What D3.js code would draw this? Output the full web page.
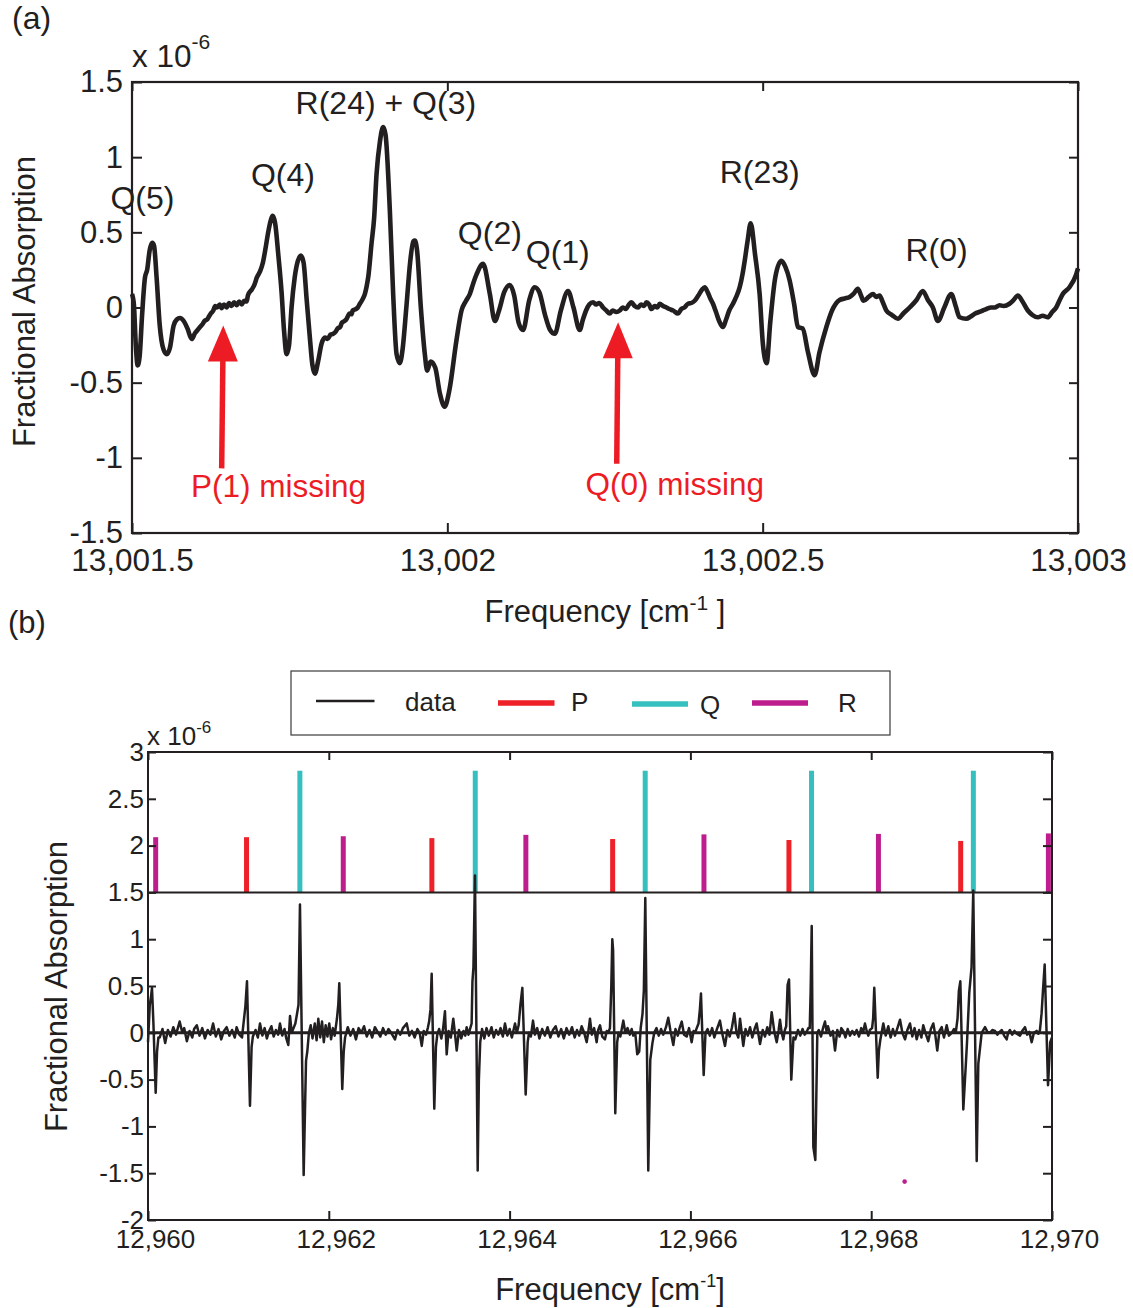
<!DOCTYPE html>
<html>
<head>
<meta charset="utf-8">
<script src="https://cdn.jsdelivr.net/npm/d3@7"></script>
<style>
html,body{margin:0;padding:0;background:#fff;}
svg{display:block;}
</style>
</head>
<body>
<svg id="chart" width="1133" height="1308" xmlns="http://www.w3.org/2000/svg"></svg>
<script>
// ================= DATA : panel (a) =================
const spectrumA = [
[13001.5000,0.09],[13001.5030,0.02],[13001.5060,-0.25],[13001.5090,-0.385],[13001.5120,-0.33],[13001.5160,-0.05],
[13001.5206,0.20],[13001.5240,0.25],[13001.5280,0.38],[13001.5322,0.43],[13001.5350,0.41],[13001.5390,0.20],
[13001.5440,-0.12],[13001.5500,-0.28],[13001.5550,-0.31],[13001.5600,-0.27],[13001.5660,-0.12],[13001.5710,-0.08],
[13001.5760,-0.07],[13001.5820,-0.09],[13001.5880,-0.14],[13001.5946,-0.21],[13001.6000,-0.17],[13001.6040,-0.15],[13001.6078,-0.13],
[13001.6120,-0.11],[13001.6150,-0.09],[13001.6190,-0.08],[13001.6220,-0.06],[13001.6250,-0.04],[13001.6288,-0.02],[13001.6320,0.01],[13001.6350,0.00],
[13001.6390,0.02],[13001.6420,-0.005],[13001.6460,0.02],[13001.6500,0.00],[13001.6540,0.03],[13001.6580,0.01],[13001.6620,0.035],
[13001.6660,0.015],[13001.6700,0.04],[13001.6740,0.02],[13001.6780,0.045],[13001.6818,0.04],
[13001.6838,0.08],[13001.6900,0.12],[13001.6940,0.15],[13001.6980,0.20],[13001.7030,0.24],[13001.7076,0.30],[13001.7120,0.40],[13001.7155,0.49],
[13001.7200,0.58],[13001.7230,0.61],[13001.7270,0.56],[13001.7320,0.35],[13001.7372,0.10],[13001.7410,-0.15],
[13001.7452,-0.31],[13001.7490,-0.25],[13001.7530,0.00],[13001.7580,0.20],[13001.7630,0.31],[13001.7678,0.345],
[13001.7720,0.30],[13001.7770,0.05],[13001.7820,-0.20],[13001.7860,-0.38],[13001.7900,-0.44],[13001.7950,-0.36],
[13001.8006,-0.24],[13001.8060,-0.20],[13001.8100,-0.21],[13001.8150,-0.18],[13001.8190,-0.175],[13001.8230,-0.16],[13001.8260,-0.14],
[13001.8300,-0.13],[13001.8330,-0.10],[13001.8370,-0.09],[13001.8403,-0.075],[13001.8450,-0.04],[13001.8480,-0.045],[13001.8500,-0.02],
[13001.8550,-0.01],[13001.8580,0.00],[13001.8613,0.025],[13001.8650,0.05],[13001.8693,0.09],[13001.8720,0.14],
[13001.8745,0.20],[13001.8799,0.43],[13001.8840,0.60],[13001.8878,0.89],[13001.8930,1.10],[13001.8982,1.20],
[13001.9020,1.15],[13001.9089,0.64],[13001.9140,0.10],[13001.9195,-0.31],[13001.9247,-0.37],[13001.9290,-0.28],
[13001.9350,0.00],[13001.9410,0.30],[13001.9460,0.44],[13001.9485,0.445],[13001.9520,0.38],[13001.9580,0.00],
[13001.9643,-0.31],[13001.9680,-0.42],[13001.9734,-0.36],[13001.9808,-0.40],[13001.9881,-0.57],[13001.9957,-0.66],
[13002.0032,-0.55],[13002.0144,-0.22],[13002.0225,-0.02],[13002.0290,0.04],[13002.0357,0.09],[13002.0410,0.16],[13002.0463,0.22],
[13002.0567,0.29],[13002.0674,0.09],[13002.0753,-0.09],[13002.0820,-0.02],[13002.0900,0.10],[13002.0990,0.15],
[13002.1060,0.08],[13002.1130,-0.10],[13002.1201,-0.15],[13002.1300,0.05],[13002.1387,0.135],[13002.1460,0.10],
[13002.1550,-0.05],[13002.1630,-0.15],[13002.1704,-0.175],[13002.1800,-0.02],[13002.1914,0.11],[13002.2000,0.00],
[13002.2100,-0.15],[13002.2150,-0.08],[13002.2200,-0.02],[13002.2250,0.02],[13002.2311,0.035],[13002.2360,0.02],[13002.2410,0.03],
[13002.2469,0.00],[13002.2520,-0.02],[13002.2575,-0.04],[13002.2620,-0.02],[13002.2680,-0.03],[13002.2734,-0.02],[13002.2780,0.00],
[13002.2830,-0.01],[13002.2880,0.02],[13002.2919,0.035],[13002.2970,0.01],[13002.3024,0.00],[13002.3070,0.02],[13002.3120,0.01],
[13002.3157,0.035],[13002.3200,0.02],[13002.3236,-0.01],[13002.3290,0.01],[13002.3330,0.00],[13002.3368,0.025],[13002.3420,0.01],
[13002.3474,0.00],[13002.3520,-0.01],[13002.3580,-0.02],[13002.3658,-0.04],[13002.3710,-0.01],[13002.3760,0.00],[13002.3816,0.025],
[13002.3870,0.03],[13002.3922,0.045],[13002.3980,0.08],[13002.4040,0.12],[13002.4081,0.135],[13002.4130,0.10],[13002.4170,0.06],
[13002.4212,0.025],[13002.4260,-0.03],[13002.4310,-0.09],[13002.4371,-0.13],[13002.4420,-0.08],[13002.4470,-0.02],[13002.4529,0.025],
[13002.4580,0.07],[13002.4636,0.135],[13002.4680,0.22],[13002.4715,0.31],[13002.4760,0.44],[13002.4810,0.56],
[13002.4880,0.35],[13002.4952,0.09],[13002.5005,-0.25],
[13002.5063,-0.37],[13002.5120,-0.10],[13002.5200,0.20],[13002.5296,0.31],[13002.5360,0.27],[13002.5428,0.18],[13002.5500,0.02],[13002.5559,-0.13],
[13002.5634,-0.14],[13002.5720,-0.30],[13002.5824,-0.45],[13002.5900,-0.30],[13002.6010,-0.13],[13002.6100,-0.02],
[13002.6220,0.05],[13002.6300,0.06],[13002.6379,0.07],[13002.6440,0.09],[13002.6510,0.125],[13002.6560,0.08],[13002.6600,0.045],
[13002.6680,0.07],[13002.6750,0.09],[13002.6800,0.07],[13002.6854,0.08],[13002.6900,0.04],
[13002.6961,-0.02],[13002.7050,-0.05],[13002.7144,-0.075],[13002.7230,-0.04],[13002.7330,0.00],[13002.7440,0.05],[13002.7540,0.11],[13002.7620,0.05],[13002.7699,0.00],[13002.7778,-0.09],
[13002.7880,0.00],[13002.7990,0.09],[13002.8060,0.01],[13002.8122,-0.065],[13002.8228,-0.075],[13002.8300,-0.06],[13002.8370,-0.04],
[13002.8430,-0.03],[13002.8491,-0.02],[13002.8550,-0.01],[13002.8620,0.00],[13002.8680,0.00],[13002.8756,0.015],[13002.8820,0.01],
[13002.8914,0.025],[13002.8980,0.05],[13002.9046,0.08],[13002.9120,0.04],[13002.9204,-0.02],[13002.9280,-0.05],[13002.9363,-0.065],
[13002.9440,-0.055],[13002.9521,-0.065],[13002.9590,-0.03],[13002.9654,0.00],[13002.9710,0.05],[13002.9759,0.09],
[13002.9865,0.135],[13002.9971,0.22],[13003.0000,0.26]
];
// [label, frequency (centre), value (baseline)]
const peakLabelsA = [
  ["Q(5)", 13001.5166, 0.658],
  ["Q(4)", 13001.7393, 0.81],
  ["R(24) + Q(3)", 13001.9025, 1.289],
  ["Q(2)", 13002.0674, 0.425],
  ["Q(1)", 13002.1751, 0.299],
  ["R(23)", 13002.4952, 0.831],
  ["R(0)", 13002.7757, 0.312]
];
const missingLabelsA = [
  {text:"P(1) missing", textF:13001.7325, textV:-1.26, tipF:13001.6447, tipV:-0.12, tailF:13001.6422, tailV:-1.07},
  {text:"Q(0) missing", textF:13002.3605, textV:-1.249, tipF:13002.2708, tipV:-0.098, tailF:13002.2686, tailV:-1.04}
];
const xTicksA = [13001.5, 13002, 13002.5, 13003];
const xTickLabelsA = ["13,001.5", "13,002", "13,002.5", "13,003"];
const yTicksA = [-1.5, -1, -0.5, 0, 0.5, 1, 1.5];
const yTickLabelsA = ["-1.5", "-1", "-0.5", "0", "0.5", "1", "1.5"];

// ================= DATA : panel (b) =================
const spectrumB = [
[12960.000,-0.10],[12960.010,0.10],[12960.020,0.30],[12960.035,0.40],[12960.044,0.48],[12960.060,0.10],[12960.085,-0.64],[12960.100,-0.20],[12960.115,-0.05],
[12960.13,-0.05],[12960.16,0.04],[12960.19,-0.11],[12960.22,0.03],[12960.25,-0.04],[12960.28,0.06],[12960.31,-0.02],[12960.35,0.12],[12960.38,0.00],[12960.40,0.05],[12960.43,-0.09],[12960.46,0.02],[12960.49,-0.05],[12960.51,0.04],[12960.54,0.08],[12960.57,-0.03],[12960.60,0.05],[12960.63,-0.06],[12960.66,0.03],[12960.69,-0.02],[12960.72,0.10],[12960.75,-0.04],[12960.78,0.04],[12960.81,-0.07],[12960.84,0.02],[12960.87,0.06],[12960.90,-0.03],[12960.93,0.03],[12960.96,-0.05],[12960.98,0.06],[12961.01,-0.02],[12961.04,-0.05],
[12961.060,0.13],[12961.077,0.28],[12961.095,0.55],[12961.128,-0.78],[12961.146,-0.15],[12961.160,-0.04],
[12961.190,0.03],[12961.215,-0.05],[12961.239,0.10],[12961.265,-0.03],[12961.290,0.05],[12961.315,-0.06],[12961.340,0.02],[12961.365,0.07],[12961.390,-0.04],[12961.415,0.03],[12961.440,-0.02],[12961.460,0.10],[12961.485,-0.03],[12961.510,0.04],[12961.530,-0.06],[12961.552,-0.13],[12961.571,0.18],[12961.590,0.00],[12961.610,0.05],[12961.630,0.10],
[12961.648,0.20],[12961.665,0.30],[12961.681,1.37],[12961.722,-1.52],[12961.748,-0.30],[12961.762,-0.20],[12961.780,0.00],
[12961.800,0.08],[12961.820,-0.06],[12961.845,0.10],[12961.865,-0.08],[12961.884,0.15],[12961.905,-0.05],[12961.925,0.12],[12961.945,-0.10],[12961.965,0.08],[12961.985,-0.04],[12962.005,0.10],[12962.025,-0.07],[12962.045,0.05],[12962.065,-0.03],
[12962.090,0.15],[12962.105,0.30],[12962.116,0.53],[12962.149,-0.60],[12962.165,-0.20],[12962.180,-0.05],
[12962.21,0.06],[12962.24,-0.03],[12962.27,0.04],[12962.30,-0.07],[12962.33,0.05],[12962.36,0.00],[12962.39,0.07],[12962.42,-0.04],[12962.45,0.03],[12962.48,-0.05],[12962.51,0.06],[12962.54,0.01],[12962.57,-0.04],[12962.60,0.05],[12962.63,-0.02],[12962.66,0.04],[12962.69,0.00],[12962.732,-0.07],[12962.76,0.03],[12962.79,-0.02],[12962.82,0.05],[12962.862,0.10],[12962.89,-0.03],[12962.92,0.02],[12962.95,-0.05],[12962.98,0.04],[12963.005,0.00],[12963.028,-0.14],[12963.05,0.02],[12963.075,-0.02],[12963.095,0.05],
[12963.110,0.12],[12963.125,0.25],[12963.138,0.63],[12963.167,-0.81],[12963.185,-0.15],[12963.200,-0.02],
[12963.220,0.04],[12963.245,-0.06],[12963.265,0.05],[12963.285,0.23],[12963.304,-0.23],[12963.325,0.02],[12963.350,-0.05],[12963.377,0.15],[12963.395,0.00],[12963.415,-0.19],[12963.440,0.03],[12963.465,-0.06],[12963.490,0.02],[12963.510,-0.03],[12963.525,0.06],[12963.545,-0.02],[12963.565,0.05],
[12963.580,0.10],[12963.589,0.55],[12963.600,0.70],[12963.617,1.68],[12963.647,-1.47],[12963.660,-0.50],[12963.675,-0.10],
[12963.695,0.04],[12963.720,-0.06],[12963.745,0.05],[12963.770,-0.03],[12963.800,0.06],[12963.825,-0.05],[12963.850,0.03],[12963.875,-0.02],[12963.900,0.05],[12963.925,-0.04],[12963.949,0.10],[12963.975,-0.03],[12964.000,0.04],[12964.025,-0.05],[12964.060,0.10],[12964.080,0.00],
[12964.100,0.08],[12964.120,0.30],[12964.141,0.48],[12964.178,-0.66],[12964.200,-0.10],[12964.215,0.00],
[12964.235,-0.04],[12964.259,0.13],[12964.280,-0.02],[12964.305,0.05],[12964.330,-0.06],[12964.360,0.04],[12964.390,-0.03],[12964.420,0.06],[12964.450,-0.05],[12964.480,0.03],[12964.510,0.07],[12964.540,-0.04],[12964.570,0.04],[12964.600,-0.06],[12964.630,0.05],[12964.660,-0.02],[12964.690,0.06],[12964.720,-0.05],[12964.745,0.03],[12964.770,-0.03],[12964.797,0.07],[12964.825,0.00],[12964.853,-0.10],[12964.875,0.04],[12964.889,0.15],[12964.910,-0.02],[12964.935,0.05],[12964.963,-0.10],[12964.980,0.03],[12965.000,0.08],[12965.025,-0.04],[12965.055,-0.07],[12965.075,0.02],[12965.090,0.00],
[12965.110,0.05],[12965.125,0.50],[12965.136,1.00],[12965.145,0.88],[12965.169,-0.86],[12965.190,-0.10],[12965.205,0.00],
[12965.225,-0.04],[12965.258,0.13],[12965.280,0.00],[12965.305,0.05],[12965.330,-0.02],[12965.350,0.04],[12965.368,-0.03],[12965.390,0.00],[12965.412,-0.23],[12965.434,-0.20],[12965.450,0.05],
[12965.470,0.20],[12965.485,0.45],[12965.501,1.44],[12965.534,-1.47],[12965.556,-0.29],[12965.580,-0.11],
[12965.600,0.00],[12965.625,0.05],[12965.650,-0.03],[12965.675,0.04],[12965.700,-0.02],[12965.730,0.06],[12965.755,0.16],[12965.780,0.02],[12965.811,-0.13],[12965.835,0.04],[12965.860,-0.03],[12965.880,0.05],[12965.904,0.12],[12965.930,-0.02],[12965.959,-0.04],[12965.985,0.05],[12966.014,-0.10],[12966.035,0.02],[12966.051,0.00],[12966.070,0.05],
[12966.090,0.10],[12966.105,0.25],[12966.117,0.42],[12966.147,-0.45],[12966.167,0.00],
[12966.190,0.04],[12966.215,-0.03],[12966.240,0.05],[12966.265,-0.05],[12966.290,0.03],[12966.327,0.13],[12966.350,0.00],[12966.383,-0.14],[12966.410,0.03],[12966.435,-0.04],[12966.460,0.06],[12966.486,0.21],[12966.510,0.00],[12966.530,-0.05],[12966.549,0.15],[12966.585,-0.14],[12966.610,0.04],[12966.635,-0.03],[12966.660,0.06],[12966.685,-0.05],[12966.710,0.04],[12966.733,0.10],[12966.770,-0.12],[12966.800,0.03],[12966.825,-0.04],[12966.850,0.06],[12966.875,-0.02],[12966.899,0.22],[12966.930,0.00],[12966.955,-0.10],[12966.975,0.02],[12966.991,0.14],[12967.010,0.00],[12967.028,-0.07],[12967.045,0.03],
[12967.060,0.07],[12967.075,0.51],[12967.091,0.57],[12967.116,-0.50],[12967.140,-0.05],
[12967.160,-0.07],[12967.190,0.03],[12967.215,-0.03],[12967.240,0.04],[12967.265,-0.02],[12967.290,0.02],[12967.305,0.05],
[12967.320,0.05],[12967.330,0.43],[12967.342,1.14],[12967.360,-1.22],[12967.382,-1.36],[12967.404,0.00],
[12967.420,0.03],[12967.445,-0.04],[12967.467,0.05],[12967.489,0.12],[12967.505,0.02],[12967.522,0.07],[12967.550,-0.03],[12967.575,0.02],[12967.600,-0.19],[12967.625,0.03],[12967.650,-0.04],[12967.670,0.05],[12967.691,0.02],[12967.715,-0.05],[12967.740,0.04],[12967.765,-0.03],[12967.790,0.02],[12967.815,-0.02],[12967.839,0.03],[12967.865,-0.04],[12967.890,0.05],[12967.910,0.00],[12967.931,0.10],[12967.950,0.02],[12967.968,-0.03],[12967.985,0.03],
[12968.010,0.05],[12968.022,0.16],[12968.034,0.48],[12968.072,-0.48],[12968.085,-0.19],[12968.100,-0.08],
[12968.134,0.10],[12968.160,-0.03],[12968.189,0.07],[12968.215,-0.05],[12968.240,0.04],[12968.263,-0.03],[12968.290,0.05],[12968.319,0.14],[12968.345,0.00],[12968.374,-0.07],[12968.400,0.03],[12968.429,0.10],[12968.455,-0.04],[12968.480,0.05],[12968.503,-0.07],[12968.530,0.03],[12968.555,-0.05],[12968.576,0.08],[12968.600,0.00],[12968.631,-0.09],[12968.660,0.04],[12968.687,0.10],[12968.710,-0.03],[12968.731,-0.19],[12968.755,0.02],[12968.780,0.06],[12968.805,-0.05],[12968.835,0.08],[12968.860,-0.03],[12968.891,0.00],[12968.915,0.04],[12968.935,0.00],
[12968.955,0.15],[12968.970,0.45],[12968.986,0.55],[12969.019,-0.82],[12969.046,-0.35],[12969.060,-0.10],[12969.085,0.43],[12969.110,0.70],[12969.129,1.52],[12969.167,-1.37],[12969.185,-0.33],[12969.222,0.00],
[12969.259,0.06],[12969.285,0.01],[12969.314,0.00],[12969.340,0.03],[12969.369,0.02],[12969.395,-0.02],[12969.420,0.01],[12969.445,0.03],[12969.470,-0.03],[12969.499,-0.07],[12969.515,0.00],[12969.535,0.03],[12969.560,-0.02],[12969.585,0.02],[12969.610,-0.01],[12969.646,-0.03],[12969.670,0.02],[12969.701,0.06],[12969.725,-0.02],[12969.750,0.01],[12969.775,-0.10],[12969.800,0.00],[12969.830,0.02],[12969.850,-0.01],[12969.867,0.03],
[12969.885,0.21],[12969.900,0.45],[12969.919,0.73],[12969.956,-0.56],[12969.980,-0.10],[12970.000,-0.05]
];
// stick spectra [frequency, top value]; sticks start at stickBase
const sticksP = [[12961.09,2.09],[12963.14,2.08],[12965.14,2.07],[12967.09,2.06],[12968.99,2.05]];
const sticksQ = [[12961.68,2.80],[12963.62,2.80],[12965.50,2.80],[12967.34,2.80],[12969.13,2.80]];
const sticksR = [[12960.085,2.09],[12962.16,2.10],[12964.18,2.115],[12966.15,2.12],[12968.08,2.125],[12969.96,2.13]];
const stickBase = 1.5;
const strayPointB = [[12968.37,-1.59]];
const xTicksB = [12960, 12962, 12964, 12966, 12968, 12970];
const xTickLabelsB = ["12,960", "12,962", "12,964", "12,966", "12,968", "12,970"];
const yTicksB = [-2, -1.5, -1, -0.5, 0, 0.5, 1, 1.5, 2, 2.5, 3];
const yTickLabelsB = ["-2", "-1.5", "-1", "-0.5", "0", "0.5", "1", "1.5", "2", "2.5", "3"];
const legendLabels = ["data", "P", "Q", "R"];

// ================= RENDER =================
const FONT = '"Liberation Sans", Arial, Helvetica, sans-serif';
const INK = "#231f20";
const RED = "#ed1c24";
const COL = {P:"#ed2127", Q:"#35bfbf", R:"#be1e8d"};
const svg = d3.select("#chart");
svg.append("rect").attr("width",1133).attr("height",1308).attr("fill","#fff");

function styleAxis(g, fs, dx) {
  g.attr("font-family", FONT).attr("font-size", fs).attr("color", INK);
  g.select(".domain").remove();
  g.selectAll(".tick line").attr("stroke-width", 2);
  g.selectAll(".tick text").attr("fill", INK);
  if (dx) g.selectAll(".tick text").attr("dx", dx);
}
function txt(g, x, y, s, fs, opts) {
  const t = g.append("text").attr("x", x).attr("y", y).attr("font-family", FONT)
    .attr("font-size", fs).attr("fill", (opts && opts.fill) || INK);
  if (opts && opts.anchor) t.attr("text-anchor", opts.anchor);
  if (s !== null) t.text(s);
  return t;
}

// ---------- Panel (a) ----------
const xA = d3.scaleLinear().domain([13001.5, 13003]).range([132, 1078]);
const yA = d3.scaleLinear().domain([-1.5, 1.5]).range([533, 82]);
const gA = svg.append("g");

gA.append("path").datum(spectrumA)
  .attr("fill","none").attr("stroke",INK).attr("stroke-width",4.6)
  .attr("stroke-linejoin","round")
  .attr("d", d3.line().curve(d3.curveMonotoneX).x(d=>xA(d[0])).y(d=>yA(d[1])));

gA.append("g").attr("transform",`translate(0,${yA(-1.5)})`)
  .call(d3.axisBottom(xA).tickValues(xTicksA).tickFormat((d,i)=>xTickLabelsA[i]).tickSizeInner(-10).tickSizeOuter(0).tickPadding(16))
  .call(g=>styleAxis(g,31.5));
gA.append("g").attr("transform",`translate(0,${yA(1.5)})`)
  .call(d3.axisTop(xA).tickValues(xTicksA).tickFormat("").tickSizeInner(-9).tickSizeOuter(0))
  .call(g=>styleAxis(g,31));
gA.append("g").attr("transform",`translate(${xA(13001.5)},0)`)
  .call(d3.axisLeft(yA).tickValues(yTicksA).tickFormat((d,i)=>yTickLabelsA[i]).tickSizeInner(-10).tickSizeOuter(0).tickPadding(9))
  .call(g=>styleAxis(g,31));
gA.append("g").attr("transform",`translate(${xA(13003)},0)`)
  .call(d3.axisRight(yA).tickValues(yTicksA).tickFormat("").tickSizeInner(-9).tickSizeOuter(0))
  .call(g=>styleAxis(g,31));

gA.append("rect").attr("x",xA(13001.5)).attr("y",yA(1.5))
  .attr("width",xA(13003)-xA(13001.5)).attr("height",yA(-1.5)-yA(1.5))
  .attr("fill","none").attr("stroke",INK).attr("stroke-width",2.2);

gA.selectAll("text.peak").data(peakLabelsA).join("text").attr("class","peak")
  .attr("x",d=>xA(d[1])).attr("y",d=>yA(d[2])).attr("text-anchor","middle")
  .attr("font-family",FONT).attr("font-size",32).attr("fill",INK).text(d=>d[0]);

missingLabelsA.forEach(m => {
  const tx = xA(m.tipF), ty = yA(m.tipV), bx = xA(m.tailF), by = yA(m.tailV);
  const headLen = 36, half = 15;
  const hx = tx + (bx - tx) * headLen / (by - ty);
  gA.append("line").attr("x1",bx).attr("y1",by).attr("x2",hx).attr("y2",ty+headLen-1)
    .attr("stroke",RED).attr("stroke-width",5.5);
  gA.append("path").attr("d",`M${tx},${ty}L${hx+half},${ty+headLen}L${hx-half},${ty+headLen}Z`).attr("fill",RED);
  txt(gA, xA(m.textF), yA(m.textV), m.text, 31.5, {anchor:"middle", fill:RED});
});

// exponent and panel label
{
  const t = txt(gA, 132, 67, "x 10", 31.5);
  t.append("tspan").attr("font-size",21).attr("dy",-18).text("-6");
}
txt(gA, 12, 29, "(a)", 32);
{
  const t = txt(gA, 605, 622, "Frequency [cm", 31, {anchor:"middle"});
  t.append("tspan").attr("font-size",21).attr("dy",-12).text("-1");
  t.append("tspan").attr("dy",12).text(" ]");
}
txt(gA, 0, 0, "Fractional Absorption", 31, {anchor:"middle"})
  .attr("transform","translate(35,301.5) rotate(-90)");

// ---------- Panel (b) ----------
const xB = d3.scaleLinear().domain([12960, 12970]).range([148, 1052]);
const yB = d3.scaleLinear().domain([-2, 3]).range([1220, 752]);
const gB = svg.append("g");

[[sticksP,COL.P],[sticksQ,COL.Q],[sticksR,COL.R]].forEach(([arr,c]) => {
  gB.append("g").selectAll("line").data(arr).join("line")
    .attr("x1",d=>xB(d[0])).attr("x2",d=>xB(d[0]))
    .attr("y1",yB(stickBase)).attr("y2",d=>yB(d[1]))
    .attr("stroke",c).attr("stroke-width",5);
});

gB.append("line").attr("x1",xB(12960)).attr("x2",xB(12970)).attr("y1",yB(0)).attr("y2",yB(0))
  .attr("stroke",INK).attr("stroke-width",3);

gB.append("path").datum(spectrumB)
  .attr("fill","none").attr("stroke",INK).attr("stroke-width",2.5)
  .attr("stroke-linejoin","round")
  .attr("d", d3.line().x(d=>xB(d[0])).y(d=>yB(d[1])));

gB.selectAll("circle.stray").data(strayPointB).join("circle").attr("class","stray")
  .attr("cx",d=>xB(d[0])).attr("cy",d=>yB(d[1])).attr("r",2.3).attr("fill",COL.R);

gB.append("line").attr("x1",xB(12960)).attr("x2",xB(12970)).attr("y1",yB(stickBase)).attr("y2",yB(stickBase))
  .attr("stroke",INK).attr("stroke-width",2);

gB.append("g").attr("transform",`translate(0,${yB(-2)})`)
  .call(d3.axisBottom(xB).tickValues(xTicksB).tickFormat((d,i)=>xTickLabelsB[i]).tickSizeInner(-9).tickSizeOuter(0).tickPadding(10))
  .call(g=>styleAxis(g,26,7));
gB.append("g").attr("transform",`translate(0,${yB(3)})`)
  .call(d3.axisTop(xB).tickValues(xTicksB).tickFormat("").tickSizeInner(-8).tickSizeOuter(0))
  .call(g=>styleAxis(g,26));
gB.append("g").attr("transform",`translate(${xB(12960)},0)`)
  .call(d3.axisLeft(yB).tickValues(yTicksB).tickFormat((d,i)=>yTickLabelsB[i]).tickSizeInner(-8).tickSizeOuter(0).tickPadding(4))
  .call(g=>styleAxis(g,26));
gB.append("g").attr("transform",`translate(${xB(12970)},0)`)
  .call(d3.axisRight(yB).tickValues(yTicksB).tickFormat("").tickSizeInner(-9).tickSizeOuter(0))
  .call(g=>styleAxis(g,26));

gB.append("rect").attr("x",xB(12960)).attr("y",yB(3))
  .attr("width",xB(12970)-xB(12960)).attr("height",yB(-2)-yB(3))
  .attr("fill","none").attr("stroke",INK).attr("stroke-width",2);

{
  const t = txt(gB, 147, 745, "x 10", 26);
  t.append("tspan").attr("font-size",17).attr("dy",-12).text("-6");
}
txt(gB, 8, 633, "(b)", 31);
{
  const t = txt(gB, 610, 1300, "Frequency [cm", 31, {anchor:"middle"});
  t.append("tspan").attr("font-size",18).attr("dy",-13).text("-1");
  t.append("tspan").attr("dy",13).text("]");
}
txt(gB, 0, 0, "Fractional Absorption", 31, {anchor:"middle"})
  .attr("transform","translate(67,986.5) rotate(-90)");

// ---------- Legend ----------
const lg = svg.append("g");
lg.append("rect").attr("x",291).attr("y",671).attr("width",599).attr("height",64)
  .attr("fill","#fff").attr("stroke","#3a3a3a").attr("stroke-width",1.2);
const legendStyle = [
  {x1:316, x2:374.5, y:701, c:INK,   w:2.5, tx:405, ty:711},
  {x1:498, x2:554.5, y:703, c:COL.P, w:5.5, tx:571, ty:711},
  {x1:632, x2:688,   y:704, c:COL.Q, w:5.5, tx:700, ty:714},
  {x1:752, x2:808,   y:703, c:COL.R, w:5.5, tx:838, ty:712}
];
legendLabels.forEach((lab,i) => {
  const s = legendStyle[i];
  lg.append("line").attr("x1",s.x1).attr("x2",s.x2).attr("y1",s.y).attr("y2",s.y)
    .attr("stroke",s.c).attr("stroke-width",s.w);
  txt(lg, s.tx, s.ty, lab, 26);
});
</script>
</body>
</html>
